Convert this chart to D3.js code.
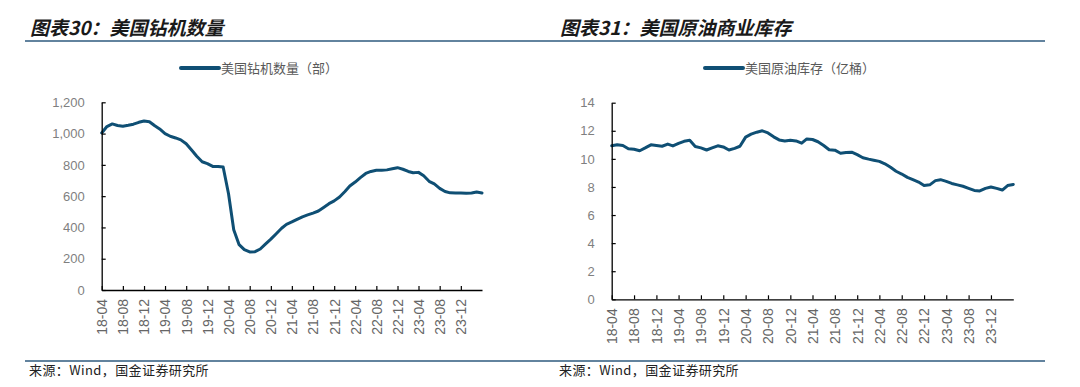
<!DOCTYPE html>
<html>
<head>
<meta charset="utf-8">
<script src="https://cdn.jsdelivr.net/npm/d3@7"></script>
<style>
  body { margin: 0; background: #fff; }
  svg { display: block; }
  text { font-family: "Liberation Sans", Arial, sans-serif; }
  .cjk { font-family: "Noto Sans CJK SC", sans-serif; }
</style>
</head>
<body>
<svg width="1080" height="387"></svg>
<script>
// x tick labels shared by both charts (every 4 months)
var tickLabels = ["18-04","18-08","18-12","19-04","19-08","19-12","20-04","20-08","20-12",
                  "21-04","21-08","21-12","22-04","22-08","22-12","23-04","23-08","23-12"];

// monthly points, 2018-04 .. 2024-04
var months = d3.timeMonth.range(new Date(2018, 3, 1), new Date(2024, 4, 1));

// US rig count (部)
var rigCount = [1004,1045,1062,1052,1047,1053,1060,1072,1080,1076,1050,1030,
                1000,983,972,960,935,895,855,820,808,790,790,786,
                615,385,290,258,243,245,262,295,325,360,395,420,
                435,452,468,480,492,505,528,552,570,595,630,665,
                690,718,745,758,765,765,768,775,782,772,758,750,
                752,730,695,678,650,630,621,620,620,618,620,626,620];
var rigTicks = [0,200,400,600,800,1000,1200];

// US crude inventory (亿桶)
var crudeStock = [10.93,11.0,10.95,10.72,10.68,10.58,10.78,11.0,10.95,10.9,11.05,10.92,
                  11.1,11.25,11.32,10.88,10.78,10.63,10.78,10.93,10.85,10.63,10.75,10.9,
                  11.55,11.76,11.9,12.0,11.85,11.57,11.35,11.28,11.32,11.28,11.12,11.42,
                  11.38,11.22,10.95,10.65,10.62,10.4,10.45,10.48,10.3,10.08,9.98,9.9,
                  9.82,9.65,9.4,9.12,8.92,8.68,8.52,8.35,8.1,8.15,8.45,8.52,
                  8.4,8.25,8.15,8.05,7.9,7.75,7.72,7.9,8.0,7.9,7.78,8.1,8.18];
var crudeTicks = [0,2,4,6,8,10,12,14];

var svg = d3.select("svg");
var lineColor = "#0f4f74";
var parseTick = d3.timeParse("%y-%m");

function drawChart(cfg) {
  // title + rule
  svg.append("text").attr("class", "cjk")
    .attr("x", cfg.titleX).attr("y", 35)
    .attr("font-size", 19).attr("font-weight", 700).attr("font-style", "italic")
    .attr("fill", "#1a1a1a")
    .text(cfg.title);
  svg.append("line")
    .attr("x1", cfg.ruleX1).attr("x2", cfg.ruleX2).attr("y1", 41).attr("y2", 41)
    .attr("stroke", "#2e5a7e").attr("stroke-width", 1.5);

  // legend
  svg.append("line")
    .attr("x1", cfg.legendX).attr("x2", cfg.legendX + 38).attr("y1", 68).attr("y2", 68)
    .attr("stroke", lineColor).attr("stroke-width", 4).attr("stroke-linecap", "round");
  svg.append("text").attr("class", "cjk")
    .attr("x", cfg.legendX + 40).attr("y", 72.5)
    .attr("font-size", 13).attr("fill", "#595959")
    .text(cfg.legend);

  var x = d3.scaleTime()
    .domain([new Date(2018, 3, 1), new Date(2024, 3, 1)])
    .range([cfg.left, cfg.right]);
  var y = d3.scaleLinear()
    .domain([0, d3.max(cfg.ticks)])
    .range([cfg.bottom, cfg.top]);

  var g = svg.append("g");

  var line = d3.line()
    .x(function(d, i) { return x(months[i]); })
    .y(function(d) { return y(d); });

  g.append("path")
    .datum(cfg.values)
    .attr("fill", "none")
    .attr("stroke", lineColor)
    .attr("stroke-width", 3)
    .attr("stroke-linejoin", "round")
    .attr("stroke-linecap", "round")
    .attr("d", line);

  var yAxis = g.append("g")
    .attr("transform", "translate(" + cfg.left + ",0)")
    .call(d3.axisLeft(y).tickValues(cfg.ticks).tickFormat(cfg.fmt)
      .tickSizeInner(-4).tickSizeOuter(0).tickPadding(17));
  yAxis.selectAll("text").attr("font-size", 13).attr("fill", "#7f7f7f");

  var xAxis = g.append("g")
    .attr("transform", "translate(0," + cfg.bottom + ")")
    .call(d3.axisBottom(x).tickValues(tickLabels.map(parseTick))
      .tickFormat(d3.timeFormat("%y-%m")).tickSizeInner(-4).tickSizeOuter(0));
  xAxis.selectAll("text")
    .attr("font-size", 14).attr("fill", "#666")
    .attr("transform", "rotate(-90)")
    .attr("text-anchor", "end")
    .attr("x", -9).attr("y", 0).attr("dy", "0.35em");

  [yAxis, xAxis].forEach(function(a) {
    a.select(".domain").attr("stroke", "#000").attr("stroke-width", 1.3);
    a.selectAll(".tick line").attr("stroke", "#000").attr("stroke-width", 1.2);
  });

  // source line
  svg.append("line")
    .attr("x1", cfg.ruleX1).attr("x2", cfg.ruleX2).attr("y1", 361).attr("y2", 361)
    .attr("stroke", "#2e5a7e").attr("stroke-width", 1.5);
  svg.append("text").attr("class", "cjk")
    .attr("x", cfg.titleX - 1).attr("y", 375)
    .attr("font-size", 13).attr("letter-spacing", 0.4).attr("fill", "#222")
    .text("来源：Wind，国金证券研究所");
}

drawChart({
  title: "图表30：美国钻机数量", titleX: 30, ruleX1: 25, ruleX2: 540,
  legend: "美国钻机数量（部）", legendX: 181,
  left: 101.7, right: 482, top: 102.3, bottom: 290,
  values: rigCount, ticks: rigTicks, fmt: d3.format(",")
});

drawChart({
  title: "图表31：美国原油商业库存", titleX: 560, ruleX1: 540, ruleX2: 1045,
  legend: "美国原油库存（亿桶）", legendX: 705,
  left: 611.7, right: 1013.3, top: 102.7, bottom: 299.3,
  values: crudeStock, ticks: crudeTicks, fmt: d3.format("d")
});
</script>
</body>
</html>
